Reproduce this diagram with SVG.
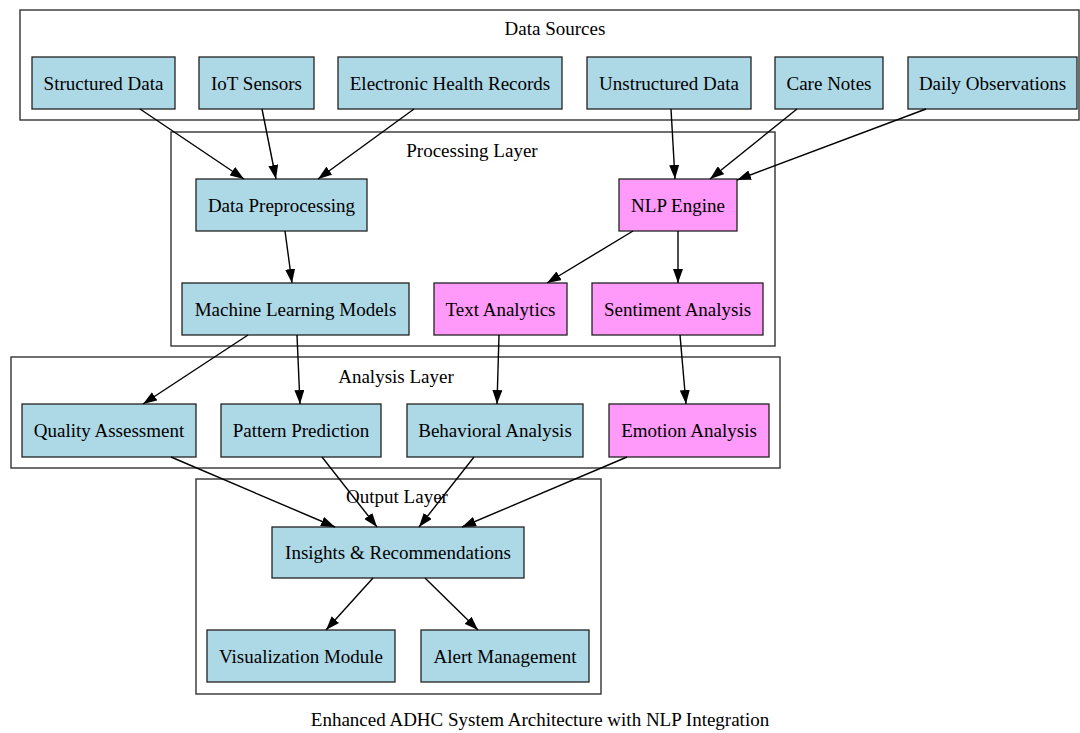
<svg xmlns="http://www.w3.org/2000/svg" width="1080" height="733" viewBox="0 0 1080 733">
<defs>
<marker id="ah" markerUnits="userSpaceOnUse" markerWidth="14" markerHeight="10" refX="14" refY="5" orient="auto">
<path d="M0,0 L14,5 L0,10 z" fill="#000"/>
</marker>
<style>
text{font-family:"Liberation Serif","Times New Roman",serif;font-size:19px;fill:#000;text-anchor:middle}
.cl{fill:#fff;stroke:#333;stroke-width:1.4}
.b{fill:#add8e6;stroke:#222;stroke-width:1.3}
.p{fill:#ff99fa;stroke:#222;stroke-width:1.3}
.e{stroke:#000;stroke-width:1.4;fill:none;marker-end:url(#ah)}
</style>
</defs>
<rect width="1080" height="733" fill="#fff"/>
<g id="clusters">
<g id="cluster-data-sources"><rect class="cl" x="20" y="10" width="1059" height="110"/><text x="555" y="35">Data Sources</text></g>
<g id="cluster-processing"><rect class="cl" x="171" y="132" width="604" height="214"/><text x="472" y="157">Processing Layer</text></g>
<g id="cluster-analysis"><rect class="cl" x="11" y="357" width="769" height="111"/><text x="396" y="383">Analysis Layer</text></g>
<g id="cluster-output"><rect class="cl" x="196" y="479" width="405" height="215"/><text x="397" y="503">Output Layer</text></g>
</g>
<g id="sd"><rect class="b" x="32" y="57" width="143" height="52"/><text x="103.5" y="90">Structured Data</text></g>
<g id="iot"><rect class="b" x="199" y="57" width="115" height="52"/><text x="256.5" y="90">IoT Sensors</text></g>
<g id="ehr"><rect class="b" x="338" y="57" width="224" height="52"/><text x="450" y="90">Electronic Health Records</text></g>
<g id="ud"><rect class="b" x="587" y="57" width="164" height="52"/><text x="669" y="90">Unstructured Data</text></g>
<g id="cn"><rect class="b" x="775" y="57" width="108" height="52"/><text x="829" y="90">Care Notes</text></g>
<g id="do"><rect class="b" x="908" y="57" width="169" height="52"/><text x="992.5" y="90">Daily Observations</text></g>
<g id="dp"><rect class="b" x="196" y="179" width="171" height="52"/><text x="281.5" y="212">Data Preprocessing</text></g>
<g id="nlp"><rect class="p" x="619" y="179" width="118" height="52"/><text x="678" y="212">NLP Engine</text></g>
<g id="mlm"><rect class="b" x="182" y="283" width="227" height="52"/><text x="295.5" y="316">Machine Learning Models</text></g>
<g id="ta"><rect class="p" x="434" y="283" width="133" height="52"/><text x="500.5" y="316">Text Analytics</text></g>
<g id="sa"><rect class="p" x="592" y="283" width="171" height="52"/><text x="677.5" y="316">Sentiment Analysis</text></g>
<g id="qa"><rect class="b" x="22" y="404" width="174" height="53"/><text x="109" y="437">Quality Assessment</text></g>
<g id="pp"><rect class="b" x="221" y="404" width="160" height="53"/><text x="301" y="437">Pattern Prediction</text></g>
<g id="ba"><rect class="b" x="407" y="404" width="176" height="53"/><text x="495" y="437">Behavioral Analysis</text></g>
<g id="ea"><rect class="p" x="609" y="404" width="160" height="53"/><text x="689" y="437">Emotion Analysis</text></g>
<g id="ins"><rect class="b" x="272" y="527" width="252" height="51"/><text x="398" y="559">Insights &amp; Recommendations</text></g>
<g id="vis"><rect class="b" x="207" y="630" width="188" height="52"/><text x="301" y="663">Visualization Module</text></g>
<g id="alert"><rect class="b" x="421" y="630" width="168" height="52"/><text x="505" y="663">Alert Management</text></g>
<g id="edges">
<line class="e" x1="140" y1="109" x2="244" y2="179"/>
<line class="e" x1="262" y1="109" x2="276" y2="179"/>
<line class="e" x1="414" y1="109" x2="318" y2="179"/>
<line class="e" x1="671" y1="109" x2="675" y2="179"/>
<line class="e" x1="797" y1="109" x2="710" y2="179"/>
<line class="e" x1="926" y1="109" x2="737" y2="180"/>
<line class="e" x1="285" y1="231" x2="292" y2="283"/>
<line class="e" x1="633" y1="231" x2="547" y2="283"/>
<line class="e" x1="678" y1="231" x2="678" y2="283"/>
<line class="e" x1="248" y1="335" x2="143" y2="404"/>
<line class="e" x1="297" y1="335" x2="300" y2="404"/>
<line class="e" x1="499" y1="335" x2="497" y2="404"/>
<line class="e" x1="680" y1="335" x2="686" y2="404"/>
<line class="e" x1="171" y1="457" x2="335" y2="527"/>
<line class="e" x1="322" y1="457" x2="377" y2="527"/>
<line class="e" x1="474" y1="457" x2="419" y2="527"/>
<line class="e" x1="627" y1="457" x2="462" y2="527"/>
<line class="e" x1="373" y1="578" x2="326" y2="630"/>
<line class="e" x1="425" y1="578" x2="478" y2="630"/>
</g>
<text id="caption" x="540" y="726">Enhanced ADHC System Architecture with NLP Integration</text>
</svg>
